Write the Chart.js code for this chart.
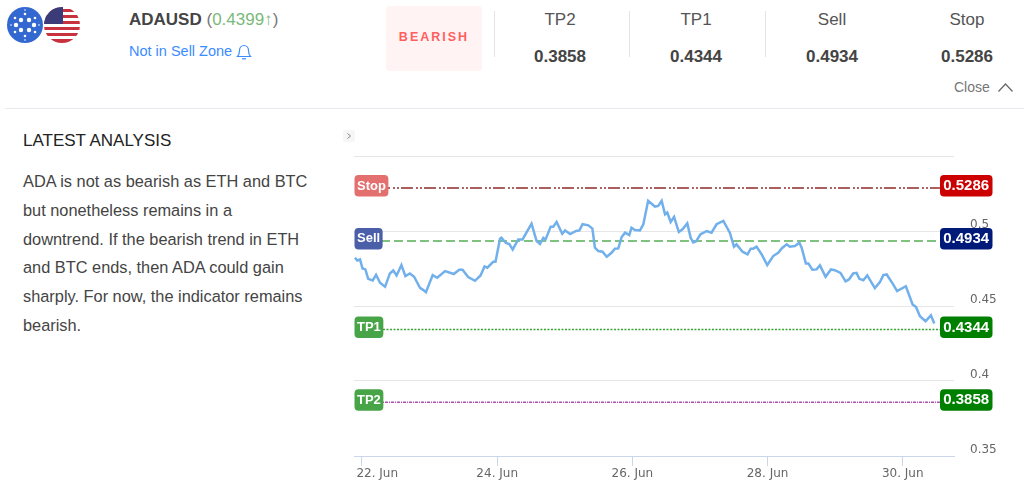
<!DOCTYPE html>
<html>
<head>
<meta charset="utf-8">
<title>ADAUSD</title>
<script src="https://cdn.jsdelivr.net/npm/chart.js@4"></script>
<style>
html, body { margin: 0; padding: 0; background: #fff; }
body { width: 1024px; height: 494px; position: relative; overflow: hidden; font-family: "Liberation Sans", Arial, sans-serif; color: #444; }
.abs { position: absolute; white-space: nowrap; }
.col { position: absolute; width: 120px; text-align: center; }
.col .name { position: absolute; top: 10px; width: 100%; font-size: 17px; color: #555; }
.col .val { position: absolute; top: 47px; width: 100%; font-size: 17px; font-weight: bold; color: #444; }
.divider { position: absolute; top: 11px; width: 1px; height: 46px; background: #e4e4e4; }
#chartBox { position: absolute; left: 340px; top: 140px; width: 684px; height: 354px; }
</style>
</head>
<body>
<svg class="abs" style="left:0;top:0" width="90" height="50" viewBox="0 0 90 50">
    <defs>
        <clipPath id="flagClip"><circle cx="62" cy="25" r="18"/></clipPath>
    </defs>
    <circle cx="25" cy="25" r="18" fill="#3468d1"/>
    <g fill="#fff">
        <circle cx="21" cy="20" r="2.2"/><circle cx="29" cy="20" r="2.2"/>
        <circle cx="21" cy="30" r="2.2"/><circle cx="29" cy="30" r="2.2"/>
        <circle cx="16" cy="25" r="2.2"/><circle cx="34" cy="25" r="2.2"/>
        <circle cx="25" cy="14" r="1.3"/><circle cx="25" cy="36" r="1.3"/>
        <circle cx="15" cy="18" r="1.3"/><circle cx="35" cy="18" r="1.3"/>
        <circle cx="15" cy="32" r="1.3"/><circle cx="35" cy="32" r="1.3"/>
        <circle cx="25" cy="10" r="0.8"/><circle cx="25" cy="40" r="0.8"/>
        <circle cx="11" cy="25" r="0.8"/><circle cx="39" cy="25" r="0.8"/>
    </g>
    <g clip-path="url(#flagClip)">
        <rect x="44" y="7" width="36" height="36" fill="#fff"/>
        <rect x="44" y="9" width="36" height="3" fill="#c8313e"/>
        <rect x="44" y="15" width="36" height="3" fill="#c8313e"/>
        <rect x="44" y="21" width="36" height="3" fill="#c8313e"/>
        <rect x="44" y="27" width="36" height="3" fill="#c8313e"/>
        <rect x="44" y="33" width="36" height="3" fill="#c8313e"/>
        <rect x="44" y="39" width="36" height="4" fill="#c8313e"/>
        <rect x="44" y="7" width="19" height="17" fill="#3c3b7a"/>
    </g>
</svg>

<div class="abs" style="left:129px;top:10px;font-size:17px;color:#777"><b style="color:#444">ADAUSD</b> (<span style="color:#7ab97a">0.4399↑</span>)</div>
<div class="abs" style="left:129px;top:43px;font-size:14.5px;color:#3b8cff">Not in Sell Zone</div>
<svg class="abs" style="left:236px;top:43px" width="16" height="18" viewBox="0 0 16 18" fill="none" stroke="#3b8cff" stroke-width="1.2">
    <path d="M1.5 13.5c1.5-1.5 2-2.5 2-6 0-3 2-5 4.5-5s4.5 2 4.5 5c0 3.5.5 4.5 2 6z"/>
    <path d="M6 15.8h4"/>
</svg>

<div class="abs" style="left:386px;top:6px;width:96px;height:65px;background:#fff3f3;border-radius:4px;text-align:center;line-height:63px;font-size:12.5px;font-weight:bold;letter-spacing:2px;color:#ff5f5f">BEARISH</div>

<div class="divider" style="left:494px"></div>
<div class="divider" style="left:629px"></div>
<div class="divider" style="left:765px"></div>
<div class="col" style="left:500px"><div class="name">TP2</div><div class="val">0.3858</div></div>
<div class="col" style="left:636px"><div class="name">TP1</div><div class="val">0.4344</div></div>
<div class="col" style="left:772px"><div class="name">Sell</div><div class="val">0.4934</div></div>
<div class="col" style="left:907px"><div class="name">Stop</div><div class="val">0.5286</div></div>

<div class="abs" style="left:954px;top:79px;font-size:14px;color:#777">Close</div>
<svg class="abs" style="left:997px;top:82px" width="17" height="11" viewBox="0 0 17 11" fill="none" stroke="#666" stroke-width="1.2"><path d="M1.5 9.5L8.5 2l7 7.5"/></svg>
<div class="abs" style="left:5px;top:108px;width:1019px;height:1px;background:#e8e8ee"></div>

<div class="abs" style="left:23px;top:131px;font-size:17px;color:#222">LATEST ANALYSIS</div>
<div class="abs" style="left:23px;top:167px;font-size:16.35px;line-height:28.8px;color:#444">ADA is not as bearish as ETH and BTC<br>but nonetheless remains in a<br>downtrend. If the bearish trend in ETH<br>and BTC ends, then ADA could gain<br>sharply. For now, the indicator remains<br>bearish.</div>
<svg class="abs" style="left:343px;top:130px" width="12" height="12" viewBox="0 0 12 12"><rect width="12" height="12" rx="2" fill="#f6f6f6"/><path d="M4.5 3.5L7.5 6l-3 2.5" fill="none" stroke="#888"/></svg>

<div id="chartBox"><canvas id="priceChart" width="684" height="354"></canvas></div>

<script>
// hours after 22 Jun 00:00
const hours = [
    -2.5, -1.7, -0.7, 0.2, 1.2, 2.2, 3.8, 5.0, 6.4, 8.2, 9.9, 11.1, 12.3, 14.0, 15.4, 17.0, 18.5, 20.6, 21.8, 22.7,
    25.1, 26.7, 29.5, 32.6, 34.5, 35.7, 37.7, 40.1, 42.1, 43.5, 44.5, 46.6, 47.4, 49.0, 49.5, 51.1, 52.3, 53.5, 55.5, 57.0,
    60.2, 62.0, 63.2, 64.4, 65.2, 67.0, 67.9, 69.1, 71.1, 72.1, 73.9, 76.0, 77.2, 78.3, 80.4, 81.8, 82.7, 83.9, 85.4, 86.9,
    88.6, 89.8, 91.0, 92.2, 93.4, 94.9, 95.7, 96.9, 98.7, 99.9, 101.6, 104.0, 105.2, 106.4, 107.6, 108.4, 109.6, 110.8, 112.5, 113.8,
    115.5, 116.7, 117.6, 118.6, 120.2, 122.4, 124.1, 125.9, 128.3, 130.6, 132.1, 133.0, 135.1, 136.9, 138.0, 138.9, 140.1, 141.9, 143.9, 146.0,
    147.8, 149.0, 150.8, 151.9, 153.7, 155.3, 156.1, 157.6, 158.5, 159.9, 161.4, 162.6, 164.6, 166.5, 167.9, 169.9, 171.7, 172.9, 174.4, 175.6,
    176.6, 178.0, 179.4, 182.1, 183.9, 185.1, 186.3, 188.6, 190.0, 193.1, 195.5, 196.7, 198.1, 200.1, 202.0, 203.2
];
const prices = [
    0.4822, 0.4804, 0.4811, 0.4750, 0.4744, 0.4681, 0.4670, 0.4708, 0.4655, 0.4628, 0.4717, 0.4737, 0.4704, 0.4773, 0.4699, 0.4717, 0.4695, 0.4621, 0.4606, 0.4592,
    0.4706, 0.4688, 0.4733, 0.4713, 0.4742, 0.4742, 0.4693, 0.4668, 0.4704, 0.4764, 0.4755, 0.4795, 0.4795, 0.4949, 0.4955, 0.4920, 0.4913, 0.4877, 0.4944, 0.4944,
    0.5049, 0.4933, 0.4913, 0.4955, 0.4944, 0.5029, 0.5029, 0.5060, 0.4982, 0.5004, 0.4980, 0.5000, 0.5004, 0.5045, 0.5038, 0.5016, 0.4889, 0.4866, 0.4862, 0.4828,
    0.4855, 0.4882, 0.4884, 0.4960, 0.4989, 0.4973, 0.5022, 0.5007, 0.5004, 0.5045, 0.5201, 0.5163, 0.5167, 0.5201, 0.5111, 0.5123, 0.5060, 0.5094, 0.4993, 0.5011,
    0.5051, 0.4955, 0.4924, 0.4931, 0.4978, 0.5000, 0.4989, 0.5045, 0.5067, 0.4989, 0.4895, 0.4911, 0.4862, 0.4844, 0.4882, 0.4882, 0.4895, 0.4844, 0.4773, 0.4833,
    0.4855, 0.4884, 0.4911, 0.4895, 0.4900, 0.4922, 0.4889, 0.4784, 0.4784, 0.4742, 0.4744, 0.4771, 0.4695, 0.4744, 0.4739, 0.4721, 0.4664, 0.4677, 0.4717, 0.4721,
    0.4681, 0.4672, 0.4704, 0.4619, 0.4659, 0.4706, 0.4710, 0.4644, 0.4599, 0.4632, 0.4510, 0.4494, 0.4432, 0.4398, 0.4438, 0.4383
];

const levelNames = ['Stop', 'Sell', 'TP1', 'TP2'];
const levelValues = [0.5286, 0.4934, 0.4344, 0.3858];
const levelLabels = ['0.5286', '0.4934', '0.4344', '0.3858'];

const xTickLabels = ['22. Jun', '24. Jun', '26. Jun', '28. Jun', '30. Jun'];
const yTickLabels = ['0.35', '0.4', '0.45', '0.5'];

const levelStyles = [
    { color: '#8e2a2a', dash: [12, 3, 2, 2, 2, 2], width: 1.5, left: '#e46f6f', right: '#cc0000' },
    { color: '#55ad55', dash: [9, 4], width: 1.5, left: '#4a5fa8', right: '#001a7a' },
    { color: '#35a535', dash: [2, 1.5], width: 1.5, left: '#47a447', right: '#008000' },
    { color: '#b04db0', dash: [3, 1, 1, 1], width: 1.5, left: '#47a447', right: '#008000' }
];

// badges on both ends of each level line
const levelBadges = {
    id: 'levelBadges',
    afterDraw(chart) {
        const ctx = chart.ctx;
        const yScale = chart.scales.y;
        ctx.save();
        ctx.textBaseline = 'middle';
        ctx.textAlign = 'center';
        levelValues.forEach((value, i) => {
            const y = yScale.getPixelForValue(value) - 13;
            const style = levelStyles[i];

            ctx.font = 'bold 13px "Liberation Sans"';
            const leftW = ctx.measureText(levelNames[i]).width + 5;
            ctx.fillStyle = style.left;
            ctx.beginPath();
            ctx.roundRect(chart.chartArea.left + 0.5, y, leftW, 21.5, 4);
            ctx.fill();
            ctx.fillStyle = '#fff';
            ctx.fillText(levelNames[i], chart.chartArea.left + 0.5 + leftW / 2, y + 11);

            ctx.font = 'bold 15px "Liberation Sans"';
            ctx.fillStyle = style.right;
            ctx.beginPath();
            ctx.roundRect(600, y, 52.5, 21.5, 4);
            ctx.fill();
            ctx.fillStyle = '#fff';
            ctx.fillText(levelLabels[i], 626.2, y + 11);
        });
        ctx.restore();
    }
};

// fixed axis size, without the room chart.js keeps for overhanging labels
const fixSize = (prop, size) => scale => {
    scale[prop] = size;
    scale.paddingLeft = scale.paddingRight = scale.paddingTop = scale.paddingBottom = 0;
};

const priceChart = new Chart(document.getElementById('priceChart').getContext('2d'), {
    type: 'line',
    data: {
        datasets: [
            {
                data: hours.map((h, i) => ({ x: h, y: prices[i] })),
                borderColor: '#72b0ec',
                borderWidth: 2.5,
                pointRadius: 0,
                tension: 0
            },
            ...levelValues.map((value, i) => ({
                data: [{ x: -2.5, y: value }, { x: 205.2, y: value }],
                borderColor: levelStyles[i].color,
                borderWidth: levelStyles[i].width,
                borderDash: levelStyles[i].dash,
                pointRadius: 0
            }))
        ]
    },
    options: {
        responsive: false,
        animation: false,
        layout: { padding: { left: 14, top: 16, right: 0, bottom: 0 } },
        plugins: { legend: { display: false }, tooltip: { enabled: false } },
        scales: {
            x: {
                type: 'linear',
                min: -2.84,
                max: 210.2,
                afterFit: fixSize('height', 38),
                border: { color: '#ccd6eb' },
                grid: { drawOnChartArea: false, tickColor: '#ccd6eb', tickLength: 10 },
                ticks: {
                    stepSize: 48,
                    includeBounds: false,
                    autoSkip: false,
                    maxRotation: 0,
                    padding: 1,
                    color: '#666',
                    font: { family: '"DejaVu Sans"', size: 12 },
                    // first label is pushed right so it stays inside the plot
                    callback: (value, index) => (index === 0 ? ' '.repeat(8) : '') + xTickLabels[index]
                }
            },
            y: {
                position: 'right',
                min: 0.35,
                max: 0.55,
                afterFit: fixSize('width', 70),
                border: { display: false },
                grid: { color: '#e6e6e6', drawTicks: false },
                ticks: {
                    stepSize: 0.05,
                    padding: 16,
                    labelOffset: -6,
                    color: '#666',
                    font: { family: '"DejaVu Sans"', size: 12 },
                    callback: (value, index) => yTickLabels[index] || ''
                }
            }
        }
    },
    plugins: [levelBadges]
});
</script>
</body>
</html>
